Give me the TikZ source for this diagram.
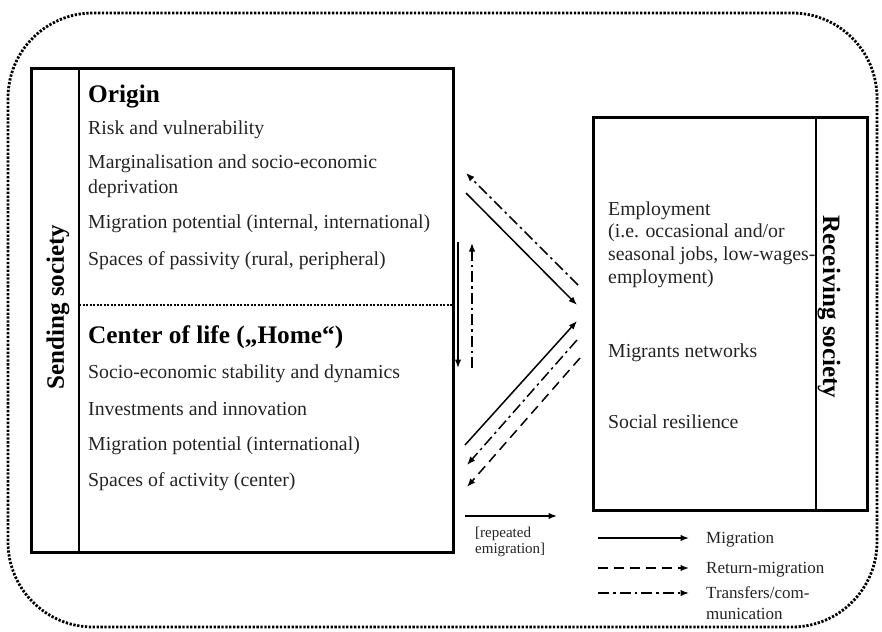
\documentclass[tikz,border=0pt]{standalone}
\usepackage{fontspec}
\setmainfont{Liberation Serif}
\usetikzlibrary{arrows.meta}
\definecolor{txt}{RGB}{35,35,35}
\tikzset{
  body/.style={anchor=base west, inner sep=0pt, text=txt, font=\fontsize{19.8}{22.7}\selectfont},
  head/.style={anchor=base west, inner sep=0pt, text=black, font=\fontsize{25.3}{28}\selectfont\bfseries},
  side/.style={inner sep=0pt, text=black, font=\fontsize{25}{28}\selectfont\bfseries},
  legtext/.style={anchor=base west, inner sep=0pt, text=txt, font=\fontsize{17}{20}\selectfont},
  smalltext/.style={anchor=base west, inner sep=0pt, text=txt, font=\fontsize{15}{16}\selectfont},
  boxline/.style={line width=2.8pt, draw=black},
  arr/.style={line width=1.5pt, -{Latex[length=8.5pt,width=6.5pt]}},
  dashdot/.style={dash pattern=on 11pt off 4pt on 2.5pt off 4pt},
  dashline/.style={dash pattern=on 10pt off 6pt},
  frame/.style={line width=2.8pt, dash pattern=on 2.3pt off 1.6pt, rounded corners=85pt},
}
\begin{document}
\begin{tikzpicture}[x=1pt,y=-1pt]
\useasboundingbox (0,0) rectangle (882,631);
% outer frame
\draw[frame] (8,13) rectangle (877,627);
% left box
\node[boxline, rectangle, minimum width=422pt, minimum height=484pt, inner sep=0pt, anchor=north west] (sendbox) at (30,67) {};
\draw[boxline] (79,67) -- (79,551);
\draw[line width=2pt, dash pattern=on 2pt off 1.5pt] (79,305) -- (452,305);
\node[side, rotate=90] (send) at (58,307) {Sending society};
\node[head] (origin) at (88,103) {Origin};
\node[body] (o1) at (88,135) {Risk and vulnerability};
\node[body] (o2) at (88,168) {Marginalisation and socio-economic};
\node[body] (o3) at (88,193) {deprivation};
\node[body] (o4) at (88,228) {Migration potential (internal, international)};
\node[body] (o5) at (88,265) {Spaces of passivity (rural, peripheral)};
\node[head] (center) at (88,343) {Center of life („Home“)};
\node[body] (c1) at (88,378) {Socio-economic stability and dynamics};
\node[body] (c2) at (88,415) {Investments and innovation};
\node[body] (c3) at (88,450) {Migration potential (international)};
\node[body] (c4) at (88,486) {Spaces of activity (center)};
% right box
\node[boxline, rectangle, minimum width=274pt, minimum height=393pt, inner sep=0pt, anchor=north west] (recvbox) at (592,116) {};
\draw[boxline] (816,116) -- (816,509);
\node[side, rotate=-90] (recv) at (829,307) {Receiving society};
\node[body] (r1) at (608,215) {Employment};
\node[body] (r2) at (608,237) {(i.e. occasional and/or};
\node[body] (r3) at (608,260) {seasonal jobs, low-wages-};
\node[body] (r4) at (608,283) {employment)};
\node[body] (r5) at (608,357) {Migrants networks};
\node[body] (r6) at (608,428) {Social resilience};
% arrow end points
\coordinate (a1s) at (578,285); \coordinate (a1e) at (466,173);
\coordinate (a2s) at (466,193); \coordinate (a2e) at (577,305);
\coordinate (v1s) at (458,242); \coordinate (v1e) at (458,368);
\coordinate (v2s) at (472,368); \coordinate (v2e) at (472,243);
\coordinate (b1s) at (465,445); \coordinate (b1e) at (577,321);
\coordinate (b2s) at (577,340); \coordinate (b2e) at (467,465);
\coordinate (b3s) at (580,358); \coordinate (b3e) at (467,487);
\coordinate (rs) at (465,516); \coordinate (re) at (557,516);
\draw[arr, dashdot] (a1s) -- (a1e);
\draw[arr] (a2s) -- (a2e);
\draw[arr] (v1s) -- (v1e);
\draw[arr, dashdot] (v2s) -- (v2e);
\draw[arr] (b1s) -- (b1e);
\draw[arr, dashdot] (b2s) -- (b2e);
\draw[arr, dashline] (b3s) -- (b3e);
\draw[arr] (rs) -- (re);
\node[smalltext] (rep1) at (475,537) {[repeated};
\node[smalltext] (rep2) at (475,553) {emigration]};
% legend
\coordinate (l1s) at (598,538); \coordinate (l1e) at (689,538);
\coordinate (l2s) at (598,568); \coordinate (l2e) at (689,568);
\coordinate (l3s) at (598,593); \coordinate (l3e) at (689,593);
\draw[arr] (l1s) -- (l1e);
\draw[arr, dashline] (l2s) -- (l2e);
\draw[arr, dashdot] (l3s) -- (l3e);
\node[legtext] (leg1) at (706,543) {Migration};
\node[legtext] (leg2) at (706,573) {Return-migration};
\node[legtext] (leg3) at (706,598) {Transfers/com-};
\node[legtext] (leg4) at (706,619) {munication};
\end{tikzpicture}
\end{document}
